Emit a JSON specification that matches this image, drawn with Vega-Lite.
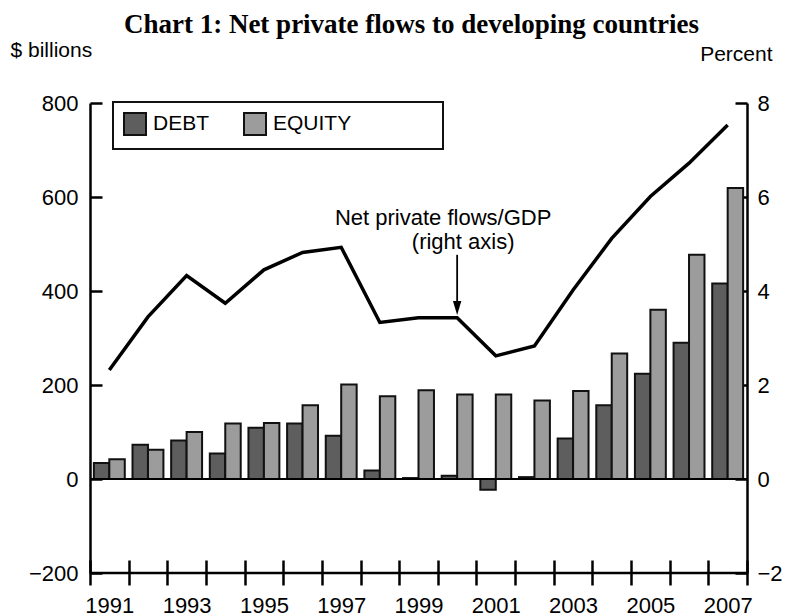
{
  "$schema": "https://vega.github.io/schema/vega-lite/v6.json",
  "width": 657,
  "height": 470,
  "autosize": "none",
  "padding": {"left": 90, "top": 103, "right": 49, "bottom": 43},
  "background": "white",
  "config": {
    "view": {"stroke": null},
    "font": "Liberation Sans",
    "axis": {"labelColor": "#000", "domainColor": "#000", "tickColor": "#000", "titleColor": "#000", "grid": false, "labelFont": "Liberation Sans", "titleFont": "Liberation Sans", "titleFontWeight": "normal"},
    "legend": {"strokeWidth": 2}
  },
  "title": {
    "text": "Chart 1: Net private flows to developing countries",
    "font": "Liberation Serif",
    "fontWeight": "bold",
    "fontSize": 27,
    "color": "#000",
    "anchor": "middle",
    "offset": 0,
    "dx": -7
  },
  "datasets": {
    "flows": [
      {"year": 1991, "type": "DEBT", "value": 34}, {"year": 1991, "type": "EQUITY", "value": 42},
      {"year": 1992, "type": "DEBT", "value": 73}, {"year": 1992, "type": "EQUITY", "value": 62},
      {"year": 1993, "type": "DEBT", "value": 82}, {"year": 1993, "type": "EQUITY", "value": 100},
      {"year": 1994, "type": "DEBT", "value": 54}, {"year": 1994, "type": "EQUITY", "value": 118},
      {"year": 1995, "type": "DEBT", "value": 109}, {"year": 1995, "type": "EQUITY", "value": 119},
      {"year": 1996, "type": "DEBT", "value": 118}, {"year": 1996, "type": "EQUITY", "value": 157},
      {"year": 1997, "type": "DEBT", "value": 92}, {"year": 1997, "type": "EQUITY", "value": 201},
      {"year": 1998, "type": "DEBT", "value": 18}, {"year": 1998, "type": "EQUITY", "value": 176},
      {"year": 1999, "type": "DEBT", "value": 2}, {"year": 1999, "type": "EQUITY", "value": 189},
      {"year": 2000, "type": "DEBT", "value": 7}, {"year": 2000, "type": "EQUITY", "value": 180},
      {"year": 2001, "type": "DEBT", "value": -23}, {"year": 2001, "type": "EQUITY", "value": 180},
      {"year": 2002, "type": "DEBT", "value": 4}, {"year": 2002, "type": "EQUITY", "value": 167},
      {"year": 2003, "type": "DEBT", "value": 86}, {"year": 2003, "type": "EQUITY", "value": 187},
      {"year": 2004, "type": "DEBT", "value": 157}, {"year": 2004, "type": "EQUITY", "value": 267},
      {"year": 2005, "type": "DEBT", "value": 224}, {"year": 2005, "type": "EQUITY", "value": 360},
      {"year": 2006, "type": "DEBT", "value": 290}, {"year": 2006, "type": "EQUITY", "value": 477},
      {"year": 2007, "type": "DEBT", "value": 416}, {"year": 2007, "type": "EQUITY", "value": 619}
    ],
    "ratio": [
      {"year": 1991, "pct": 2.32}, {"year": 1992, "pct": 3.45}, {"year": 1993, "pct": 4.33},
      {"year": 1994, "pct": 3.74}, {"year": 1995, "pct": 4.45}, {"year": 1996, "pct": 4.82},
      {"year": 1997, "pct": 4.93}, {"year": 1998, "pct": 3.33}, {"year": 1999, "pct": 3.43},
      {"year": 2000, "pct": 3.43}, {"year": 2001, "pct": 2.62}, {"year": 2002, "pct": 2.83},
      {"year": 2003, "pct": 4.02}, {"year": 2004, "pct": 5.12}, {"year": 2005, "pct": 6.01},
      {"year": 2006, "pct": 6.72}, {"year": 2007, "pct": 7.53}
    ],
    "refs": [{"level": 0, "w": 2}, {"level": -200, "w": 2.5}],
    "note1": [{"year": 2000, "pct": 5.40, "label": "Net private flows/GDP"}],
    "note2": [{"year": 2000, "pct": 4.89, "label": "(right axis)"}],
    "arrow": [{"year": 2000, "top": 4.77, "bottom": 3.64, "tip": 3.64}]
  },
  "layer": [
    {
      "layer": [
        {
          "data": {"name": "flows"},
          "mark": {"type": "bar", "stroke": "#111", "strokeWidth": 2},
          "encoding": {
            "x": {
              "field": "year", "type": "ordinal",
              "scale": {"paddingInner": 0, "paddingOuter": 0},
              "axis": {
                "title": null, "domain": false, "offset": -13, "tickSize": 25, "tickWidth": 2.5,
                "tickBand": "extent", "labelAngle": 0, "labelFontSize": 22, "labelPadding": 10,
                "labelOverlap": false,
                "labelExpr": "datum.value % 2 == 1 ? datum.label : ''"
              }
            },
            "xOffset": {"field": "type", "scale": {"paddingInner": 0, "paddingOuter": 0.25}},
            "y": {
              "field": "value", "type": "quantitative",
              "scale": {"domain": [-200, 800], "nice": false, "zero": false},
              "axis": {
                "orient": "left", "values": [-200, 0, 200, 400, 600, 800],
                "tickSize": -12, "tickWidth": 2.5, "domainWidth": 2.5,
                "labelFontSize": 22, "labelPadding": 24,
                "title": "$ billions", "titleAngle": 0, "titleAlign": "left", "titleBaseline": "alphabetic",
                "titleX": -80, "titleY": -47, "titleFontSize": 21
              }
            },
            "color": {
              "field": "type", "type": "nominal",
              "scale": {"domain": ["DEBT", "EQUITY"], "range": ["#5e5e5e", "#9c9c9c"]},
              "legend": {
                "orient": "none", "legendX": 23, "legendY": -1, "direction": "horizontal",
                "title": null, "strokeColor": "#111", "padding": 10,
                "symbolType": "square", "symbolSize": 484, "symbolStrokeColor": "#111",
                "symbolStrokeWidth": 2, "symbolOpacity": 1,
                "labelFontSize": 21, "labelColor": "#000", "labelOffset": 6, "labelLimit": 400,
                "columnPadding": 30,
                "labelExpr": "datum.label == 'EQUITY' ? 'EQUITY\u00a0\u00a0\u00a0\u00a0\u00a0\u00a0\u00a0\u00a0\u00a0\u00a0\u00a0\u00a0\u00a0\u00a0\u200b' : datum.label"
              }
            }
          }
        },
        {
          "data": {"name": "refs"},
          "mark": {"type": "rule", "color": "#000"},
          "encoding": {
            "y": {"field": "level", "type": "quantitative", "axis": {"title": "$ billions"}},
            "strokeWidth": {"field": "w", "type": "quantitative", "scale": null}
          }
        }
      ]
    },
    {
      "layer": [
        {
          "data": {"name": "ratio"},
          "mark": {"type": "line", "color": "#000", "strokeWidth": 3.5},
          "encoding": {
            "x": {"field": "year", "type": "ordinal", "axis": {"title": null}},
            "y": {
              "field": "pct", "type": "quantitative",
              "scale": {"domain": [-2, 8], "nice": false, "zero": false},
              "axis": {
                "orient": "right", "values": [-2, 0, 2, 4, 6, 8],
                "tickSize": -12, "tickWidth": 2.5, "domainWidth": 2.5,
                "labelFontSize": 22, "labelPadding": 22,
                "title": "Percent", "titleAngle": 0, "titleAlign": "right", "titleBaseline": "alphabetic",
                "titleX": 25, "titleY": -43, "titleFontSize": 21
              }
            }
          }
        },
        {
          "data": {"name": "note1"},
          "mark": {"type": "text", "fontSize": 22, "color": "#000", "align": "center", "baseline": "alphabetic", "dx": -14},
          "encoding": {
            "x": {"field": "year", "type": "ordinal", "axis": {"title": null}},
            "y": {"field": "pct", "type": "quantitative", "axis": {"title": "Percent"}},
            "text": {"field": "label"}
          }
        },
        {
          "data": {"name": "note2"},
          "mark": {"type": "text", "fontSize": 22, "color": "#000", "align": "center", "baseline": "alphabetic", "dx": 6},
          "encoding": {
            "x": {"field": "year", "type": "ordinal", "axis": {"title": null}},
            "y": {"field": "pct", "type": "quantitative", "axis": {"title": "Percent"}},
            "text": {"field": "label"}
          }
        },
        {
          "data": {"name": "arrow"},
          "mark": {"type": "rule", "color": "#000", "strokeWidth": 1.8},
          "encoding": {
            "x": {"field": "year", "type": "ordinal", "axis": {"title": null}},
            "y": {"field": "top", "type": "quantitative", "axis": {"title": "Percent"}},
            "y2": {"field": "bottom"}
          }
        },
        {
          "data": {"name": "arrow"},
          "mark": {"type": "point", "shape": "M-0.6,-1L0.6,-1L0,1Z", "size": 196, "filled": true, "color": "#000", "opacity": 1},
          "encoding": {
            "x": {"field": "year", "type": "ordinal", "axis": {"title": null}},
            "y": {"field": "tip", "type": "quantitative", "axis": {"title": "Percent"}}
          }
        }
      ]
    }
  ],
  "resolve": {"scale": {"y": "independent"}}
}
